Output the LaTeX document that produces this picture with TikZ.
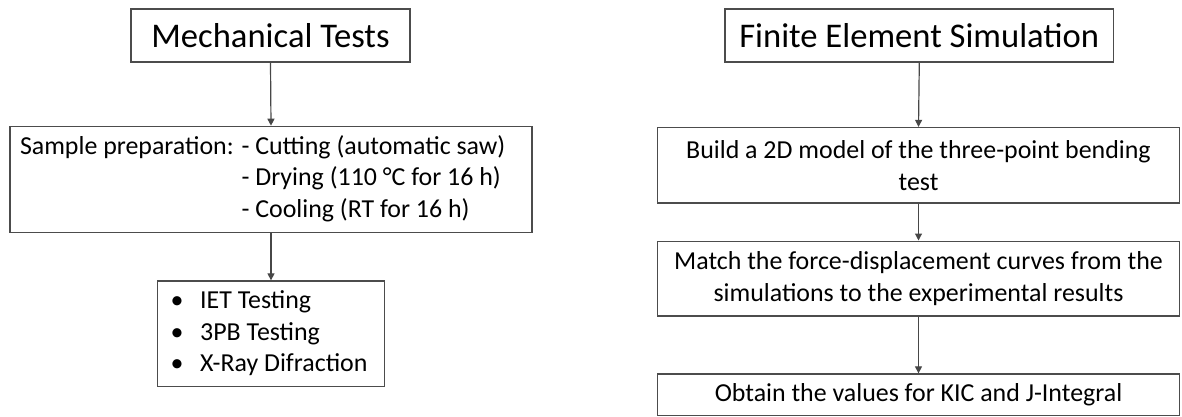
\documentclass[tikz,border=0pt]{standalone}
\usepackage{fontspec}
\setmainfont{Carlito}
\usetikzlibrary{arrows.meta}
\newcommand{\bodyfont}{\fontsize{25.9}{31.7}\selectfont}
\newcommand{\titlefont}{\fontsize{34.6}{41}\selectfont}
\newcommand{\bul}[1]{\rlap{•}\hspace{29.5pt}#1}
\tikzset{
  box/.style={draw=black!70, line width=1.4pt, inner sep=0pt, font=\bodyfont},
  arr/.style={draw=black!72, line width=1.2pt, -{Triangle[length=7pt,width=7pt]}},
}
\begin{document}
\begin{tikzpicture}[x=1pt,y=1pt]
\useasboundingbox (0,0) rectangle (1182,416);
% left column
\node[box, font=\titlefont, minimum width=279pt, minimum height=53pt] (mt) at (270.5,380.5) {Mechanical Tests};
\node[box, minimum width=522pt, minimum height=106pt, inner xsep=10pt] (sp) at (271,236.6)
  {\makebox[502pt][l]{\begin{tabular}{@{}l@{ }l@{}}Sample preparation: & - Cutting (automatic saw)\\ & - Drying (110 °C for 16 h)\\ & - Cooling (RT for 16 h)\end{tabular}}};
\node[box, minimum width=226.6pt, minimum height=105.7pt, inner xsep=13pt] (bl) at (271,82.1)
  {\makebox[200.6pt][l]{\begin{tabular}{@{}l@{}}\bul{IET Testing}\\ \bul{3PB Testing}\\ \bul{X-Ray Difraction}\end{tabular}}};
% right column
\node[box, font=\titlefont, minimum width=388.5pt, minimum height=53pt] (fes) at (919.3,380.5) {Finite Element Simulation};
\node[box, minimum width=522pt, minimum height=75.4pt, align=center] (bd) at (918.5,250.7)
  {Build a 2D model of the three-point bending\\test};
\node[box, minimum width=522pt, minimum height=74.6pt, align=center] (mc) at (918.5,137.5)
  {Match the force-displacement curves from the\\simulations to the experimental results};
\node[box, minimum width=522pt, minimum height=41.3pt] (ob) at (918.5,21.3)
  {Obtain the values for KIC and J-Integral};
% connectors
\draw[arr] (mt.south) -- (sp.north);
\draw[arr] (sp.south) -- (bl.north);
\draw[arr] (fes.south) -- (bd.north);
\draw[arr] (bd.south) -- (mc.north);
\draw[arr] (mc.south) -- (ob.north);
\end{tikzpicture}
\end{document}
